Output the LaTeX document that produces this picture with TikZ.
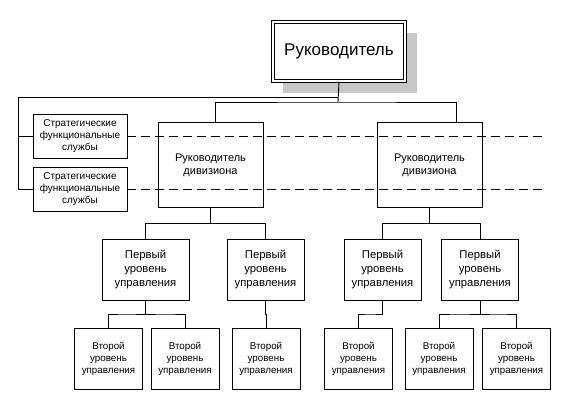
\documentclass[tikz,border=0pt]{standalone}
\usepackage{fontspec}
\setmainfont{Liberation Sans}
\usetikzlibrary{calc}

\tikzset{
  box/.style={draw, line width=0.9pt, fill=white, align=center, inner sep=0pt},
  chief/.style={box, double, double distance=2pt, line width=0.8pt, minimum width=132pt, minimum height=59pt, font=\fontsize{17}{20}\selectfont},
  service/.style={box, minimum width=94pt, minimum height=44pt, font=\fontsize{10}{12.3}\selectfont},
  division/.style={box, minimum width=105pt, minimum height=85pt, font=\fontsize{11}{12.8}\selectfont},
  firstlvl/.style={box, minimum width=77pt, minimum height=61pt, font=\fontsize{11.3}{13.7}\selectfont},
  secondlvl/.style={box, minimum width=68pt, minimum height=61pt, font=\fontsize{9.8}{12}\selectfont},
  link/.style={line width=0.9pt},
  dotline/.style={line width=0.9pt, dash pattern=on 9pt off 5pt}
}

\begin{document}
\begin{tikzpicture}[x=1pt, y=-1pt]
			\useasboundingbox (0,0) rectangle (584,407);
			%\draw[help lines, step=50] (0,0) grid (584,407);

			% shadow behind the top box
			\fill[black!22] (283,33) rectangle (417,93);
			\node[chief] (chief) at (339,51.5) {Руководитель};

			% strategic services
			\node[service] (serv1) at (80,136) {Стратегические\\функциональные\\службы};
			\node[service] (serv2) at (80,189) {Стратегические\\функциональные\\службы};

			\coordinate (busL) at (338,97);
			\coordinate (rail) at (18,97);
			\coordinate (busR) at (338,102);
			\coordinate (dashend) at (547,0);

			\node[division] (div1) at (210.5,165) {Руководитель\\дивизиона};
			\node[division] (div2) at (429.5,165) {Руководитель\\дивизиона};

			% dashed lines cross the division boxes
			\draw[dotline] (serv1.east) -- (dashend |- serv1.east);
			\draw[dotline] (serv2.east) -- (dashend |- serv2.east);

			% first level
			\node[firstlvl, minimum width=87pt] (fa) at (145.5,269.5) {Первый\\уровень\\управления};
			\node[firstlvl] (fb) at (265.5,269.5) {Первый\\уровень\\управления};
			\node[firstlvl] (fc) at (382.5,269.5) {Первый\\уровень\\управления};
			\node[firstlvl] (fd) at (480,269.5) {Первый\\уровень\\управления};

			% second level
			\foreach \n/\x in {sa/108.5, sb/185, sc/266, sd/358.5, se/439, sf/516.5}
				\node[secondlvl] (\n) at (\x,358.5) {Второй\\уровень\\управления};

			% links
			\draw[link] (chief.south) -- (busR);
			\draw[link] ([xshift=4.5pt]div1.north) |- (busR) -| ([xshift=26.5pt]div2.north);
			\draw[link] (busL) -- (rail) |- (serv2.west);
			\draw[link] (rail |- serv1.west) -- (serv1.west);
			\foreach \p/\c in {div1/fa, div1/fb, div2/fc, div2/fd, fa/sa, fa/sb, fb/sc, fc/sd, fd/se, fd/sf}
				\draw[link] (\p.south) |- ($(\p.south)!.5!(\c.north)$) -| (\c.north);
		\end{tikzpicture}
\end{document}
